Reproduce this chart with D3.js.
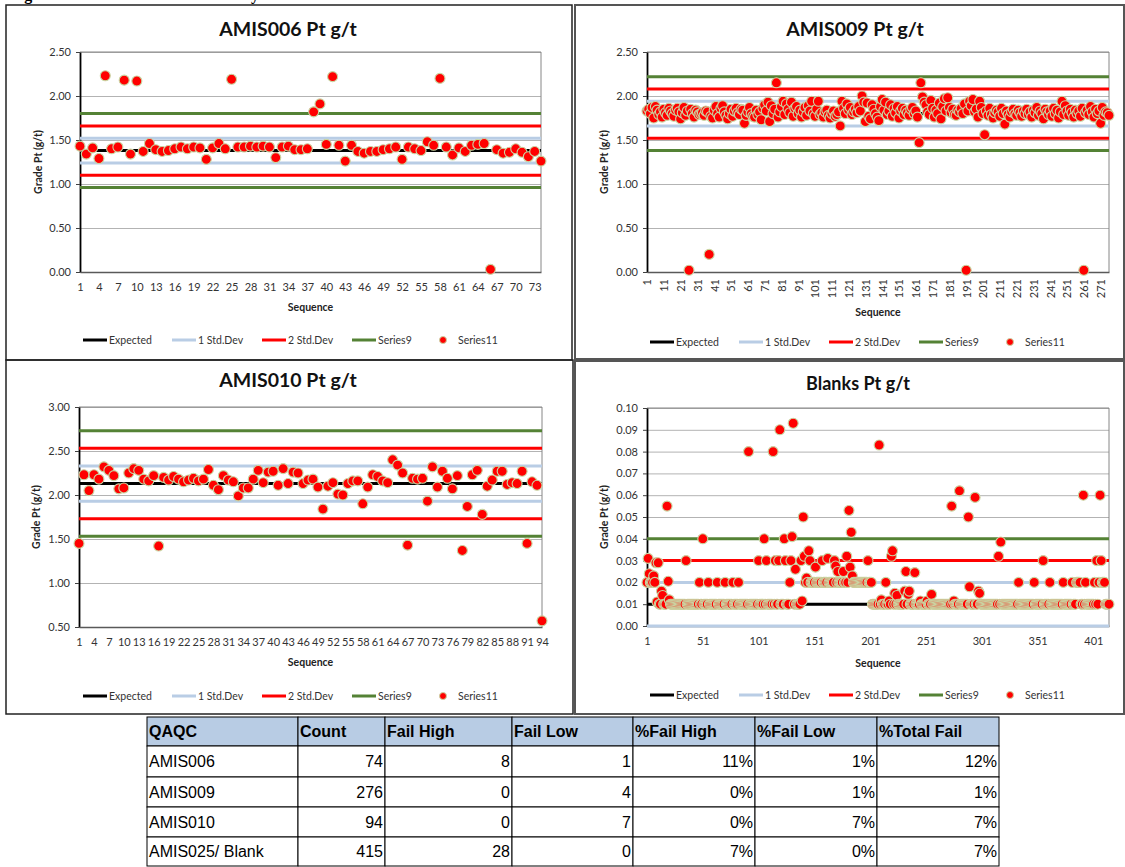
<!DOCTYPE html>
<html>
<head>
<meta charset="utf-8">
<script src="https://cdn.jsdelivr.net/npm/d3@7"></script>
<style>
  body { margin: 0; background: #fff; }
  svg { display: block; }
</style>
</head>
<body>
<div id="chart"></div>
<script>
// ---- data ----
var legendNames = ["Expected", "1 Std.Dev", "2 Std.Dev", "Series9", "Series11"];

var amis006Values = [
  1.43,1.34,1.41,1.29,2.23,1.40,1.42,2.18,1.34,2.17,
  1.37,1.46,1.39,1.37,1.38,1.40,1.42,1.40,1.42,1.41,
  1.28,1.41,1.46,1.40,2.19,1.42,1.42,1.43,1.42,1.43,
  1.42,1.30,1.42,1.43,1.39,1.39,1.40,1.82,1.91,1.45,
  2.22,1.44,1.26,1.44,1.37,1.35,1.37,1.37,1.39,1.40,
  1.42,1.28,1.42,1.40,1.38,1.48,1.44,2.20,1.42,1.33,
  1.41,1.37,1.44,1.45,1.46,0.03,1.39,1.35,1.36,1.40,
  1.36,1.31,1.37,1.26];
var amis006Lines = [[1.38], [1.52, 1.24], [1.66, 1.10], [1.80, 0.96]];
var amis006YTicks = [0, 0.5, 1, 1.5, 2, 2.5];
var amis006XTicks = [1,4,7,10,13,16,19,22,25,28,31,34,37,40,43,46,49,52,55,58,61,64,67,70,73];

var amis009Values = [
  1.83,1.85,1.80,1.87,1.75,1.88,1.84,1.79,1.82,1.76,1.85,1.81,1.78,1.86,1.83,1.80,1.77,1.84,1.86,1.82,
  1.74,1.81,1.87,1.78,1.83,0.02,1.85,1.80,1.76,1.84,1.82,1.79,1.80,1.81,1.78,1.83,1.82,0.20,1.77,1.75,
  1.84,1.88,1.80,1.76,1.86,1.89,1.82,1.78,1.74,1.80,1.85,1.77,1.83,1.86,1.81,1.79,1.85,1.84,1.69,1.78,
  1.82,1.87,1.80,1.77,1.76,1.84,1.79,1.82,1.73,1.86,1.90,1.83,1.93,1.71,1.89,1.80,1.85,2.15,1.76,1.82,
  1.88,1.94,1.79,1.91,1.85,1.81,1.93,1.77,1.86,1.88,1.80,1.84,1.76,1.82,1.87,1.78,1.89,1.83,1.94,1.80,
  1.77,1.85,1.94,1.79,1.81,1.76,1.82,1.84,1.78,1.75,1.80,1.83,1.77,1.79,1.82,1.66,1.94,1.86,1.80,1.91,
  1.84,1.87,1.79,1.82,1.85,1.81,1.88,1.83,2.00,1.93,1.71,1.92,1.77,1.74,1.90,1.85,1.80,1.76,1.72,1.88,
  1.96,1.84,1.93,1.79,1.83,1.90,1.77,1.86,1.81,1.88,1.75,1.83,1.86,1.79,1.84,1.81,1.78,1.85,1.87,1.80,
  1.83,1.76,1.47,2.15,1.99,1.93,1.90,1.82,1.79,1.95,1.86,1.76,1.84,1.80,1.92,1.74,1.88,1.97,1.83,1.98,
  1.87,1.81,1.85,1.79,1.78,1.84,1.82,1.86,1.80,1.91,0.02,1.83,1.94,1.89,1.96,1.82,1.85,1.76,1.94,1.87,
  1.80,1.56,1.83,1.78,1.86,1.79,1.75,1.81,1.84,1.82,1.77,1.86,1.80,1.68,1.83,1.79,1.76,1.82,1.85,1.80,
  1.78,1.84,1.81,1.77,1.83,1.80,1.85,1.79,1.82,1.76,1.84,1.81,1.87,1.78,1.83,1.80,1.74,1.85,1.82,1.79,
  1.83,1.77,1.86,1.80,1.84,1.75,1.82,1.94,1.79,1.89,1.83,1.78,1.85,1.81,1.76,1.84,1.80,1.83,1.77,1.86,
  0.02,1.81,1.84,1.79,1.88,1.82,1.76,1.85,1.80,1.83,1.69,1.87,1.78,1.82,1.81,1.78];
var amis009Lines = [[1.80], [1.94, 1.66], [2.08, 1.52], [2.22, 1.38]];
var amis009YTicks = [0, 0.5, 1, 1.5, 2, 2.5];
var amis009XTicks = [1,11,21,31,41,51,61,71,81,91,101,111,121,131,141,151,161,171,181,191,201,211,221,231,241,251,261,271];

var amis010Values = [
  1.45,2.23,2.05,2.23,2.18,2.32,2.28,2.22,2.07,2.08,
  2.25,2.30,2.28,2.18,2.16,2.22,1.42,2.20,2.17,2.21,
  2.18,2.15,2.17,2.19,2.16,2.18,2.29,2.11,2.06,2.22,
  2.17,2.15,1.99,2.08,2.08,2.18,2.28,2.14,2.26,2.27,
  2.11,2.30,2.13,2.26,2.25,2.13,2.17,2.18,2.09,1.84,
  2.10,2.14,2.01,2.00,2.13,2.16,2.16,1.90,2.09,2.23,
  2.21,2.16,2.14,2.40,2.34,2.25,1.43,2.19,2.18,2.19,
  1.93,2.32,2.09,2.27,2.19,2.07,2.22,1.37,1.87,2.23,
  2.28,1.78,2.10,2.17,2.27,2.27,2.12,2.14,2.13,2.27,
  1.45,2.15,2.11,0.57];
var amis010Lines = [[2.13], [2.33, 1.93], [2.53, 1.73], [2.73, 1.53]];
var amis010YTicks = [0.5, 1, 1.5, 2, 2.5, 3];
var amis010XTicks = [1,4,7,10,13,16,19,22,25,28,31,34,37,40,43,46,49,52,55,58,61,64,67,70,73,76,79,82,85,88,91,94];

var blankValues = [
  0.02,0.031,0.024,0.02,0.02,0.02,0.023,0.02,0.029,0.011,
  0.029,0.01,0.01,0.016,0.014,0.01,0.01,0.01,0.055,0.0205,
  0.012,0.01,0.01,0.01,0.01,0.01,0.01,0.01,0.01,0.01,
  0.01,0.01,0.01,0.01,0.01,0.03,0.01,0.01,0.01,0.01,
  0.01,0.01,0.01,0.01,0.01,0.01,0.01,0.02,0.01,0.01,
  0.04,0.01,0.01,0.01,0.01,0.02,0.01,0.01,0.01,0.01,
  0.01,0.01,0.01,0.02,0.01,0.01,0.01,0.01,0.01,0.01,
  0.02,0.01,0.01,0.01,0.01,0.01,0.01,0.02,0.01,0.01,
  0.01,0.01,0.02,0.01,0.01,0.01,0.01,0.01,0.01,0.01,
  0.01,0.08,0.01,0.01,0.01,0.01,0.01,0.01,0.01,0.01,
  0.03,0.01,0.01,0.01,0.01,0.04,0.01,0.03,0.01,0.01,
  0.01,0.01,0.01,0.08,0.01,0.03,0.01,0.01,0.03,0.09,
  0.01,0.01,0.01,0.04,0.03,0.01,0.01,0.01,0.02,0.03,
  0.041,0.093,0.01,0.026,0.01,0.01,0.01,0.01,0.03,0.0115,
  0.05,0.032,0.02,0.022,0.02,0.0345,0.03,0.02,0.02,0.02,
  0.02,0.027,0.02,0.02,0.02,0.02,0.02,0.03,0.02,0.02,
  0.02,0.02,0.031,0.02,0.02,0.02,0.02,0.02,0.03,0.0275,
  0.02,0.025,0.02,0.02,0.02,0.02,0.025,0.02,0.02,0.032,
  0.02,0.053,0.027,0.043,0.023,0.02,0.02,0.02,0.02,0.02,
  0.02,0.02,0.02,0.02,0.02,0.02,0.02,0.02,0.03,0.02,
  0.02,0.02,0.01,0.01,0.01,0.01,0.01,0.01,0.083,0.01,
  0.012,0.01,0.01,0.01,0.02,0.01,0.01,0.0115,0.01,0.032,
  0.0345,0.01,0.015,0.01,0.014,0.01,0.01,0.01,0.01,0.01,
  0.01,0.016,0.025,0.01,0.0145,0.016,0.01,0.01,0.01,0.01,
  0.0245,0.01,0.01,0.01,0.01,0.0115,0.01,0.01,0.01,0.01,
  0.01,0.0115,0.01,0.01,0.01,0.0145,0.01,0.01,0.01,0.01,
  0.01,0.01,0.01,0.01,0.01,0.01,0.01,0.01,0.01,0.01,
  0.01,0.01,0.01,0.055,0.01,0.0115,0.01,0.01,0.01,0.01,
  0.062,0.01,0.01,0.01,0.01,0.01,0.01,0.01,0.05,0.018,
  0.01,0.01,0.01,0.01,0.059,0.01,0.01,0.016,0.015,0.01,
  0.01,0.01,0.01,0.01,0.01,0.01,0.01,0.01,0.01,0.01,
  0.01,0.01,0.01,0.01,0.01,0.032,0.01,0.0385,0.01,0.01,
  0.01,0.01,0.01,0.01,0.01,0.01,0.01,0.01,0.01,0.01,
  0.01,0.01,0.01,0.02,0.01,0.01,0.01,0.01,0.01,0.01,
  0.01,0.01,0.01,0.01,0.01,0.01,0.01,0.02,0.01,0.01,
  0.01,0.01,0.01,0.01,0.01,0.03,0.01,0.01,0.01,0.01,
  0.01,0.02,0.01,0.01,0.01,0.01,0.01,0.01,0.01,0.01,
  0.01,0.01,0.01,0.02,0.01,0.01,0.01,0.01,0.01,0.01,
  0.01,0.02,0.01,0.01,0.01,0.02,0.02,0.02,0.02,0.01,
  0.01,0.06,0.01,0.02,0.01,0.01,0.01,0.01,0.01,0.01,
  0.01,0.02,0.01,0.03,0.01,0.02,0.06,0.03,0.02,0.02,
  0.02,0.01,0.01,0.01,0.01];
var blankLines = [[0.01], [0.02, 0.00], [0.03, -0.01], [0.04, -0.02]];
var blankYTicks = [0, 0.01, 0.02, 0.03, 0.04, 0.05, 0.06, 0.07, 0.08, 0.09, 0.10];
var blankXTicks = [1, 51, 101, 151, 201, 251, 301, 351, 401];

var tableHeader = ["QAQC", "Count", "Fail High", "Fail Low", "%Fail High", "%Fail Low", "%Total Fail"];
var tableQaqc = ["AMIS006", "AMIS009", "AMIS010", "AMIS025/ Blank"];
var tableCount = [74, 276, 94, 415];
var tableFailHigh = [8, 0, 0, 28];
var tableFailLow = [1, 4, 7, 0];
var tablePctHigh = ["11%", "0%", "0%", "7%"];
var tablePctLow = ["1%", "1%", "7%", "0%"];
var tablePctTotal = ["12%", "1%", "7%", "7%"];

// ---- styles ----
var lineColors = ["#000000", "#b9cde5", "#ff0000", "#548235"];
var chartFont = "Lato, 'Open Sans', sans-serif";
var tableFont = "'Liberation Sans', Arial, sans-serif";

var svg = d3.select("#chart").append("svg").attr("width", 1125).attr("height", 867);

// caption, cut off at the top of the page as in the source
svg.append("text").attr("x", 10).attr("y", 0)
  .style("font-family", "'Liberation Serif', serif").style("font-weight", "bold").style("font-size", "16px")
  .text("Figure 14 Standard and Blank analysis of Pt for the AMIS Series");

// panel frames
svg.append("rect").attr("x", 6).attr("y", 5).attr("width", 566).attr("height", 355)
  .attr("fill", "none").attr("stroke", "#222").attr("stroke-width", 1.5);
svg.append("rect").attr("x", 575).attr("y", 5).attr("width", 549).attr("height", 354)
  .attr("fill", "none").attr("stroke", "#555").attr("stroke-width", 2);
svg.append("rect").attr("x", 6).attr("y", 360).attr("width", 567).attr("height", 354)
  .attr("fill", "none").attr("stroke", "#222").attr("stroke-width", 1.5);
svg.append("rect").attr("x", 575).attr("y", 361).attr("width", 549).attr("height", 353)
  .attr("fill", "none").attr("stroke", "#555").attr("stroke-width", 2);

function drawChart(c, id) {
  var g = svg.append("g");
  var n = c.values.length;
  var x = d3.scaleLinear().domain([1, n]).range([c.left, c.right]);
  var y = d3.scaleLinear().domain([c.yTicks[0], c.yTicks[c.yTicks.length - 1]]).range([c.bottom, c.top]);

  g.append("clipPath").attr("id", "clip" + id).append("rect")
    .attr("x", c.left).attr("y", c.top - 2).attr("width", c.right - c.left).attr("height", c.bottom - c.top + 4);

  // gridlines
  g.append("g").attr("transform", "translate(" + c.left + ",0)")
    .call(d3.axisLeft(y).tickValues(c.yTicks).tickSize(-(c.right - c.left)).tickFormat(""))
    .call(function(s) {
      s.select(".domain").remove();
      s.selectAll("line").attr("stroke", "#b3b3b3");
    });
  // plot border
  g.append("path").attr("d", "M" + c.left + "," + c.top + "H" + c.right + "V" + c.bottom)
    .attr("fill", "none").attr("stroke", "#868686");

  // y axis
  g.append("g").attr("transform", "translate(" + c.left + ",0)")
    .call(d3.axisLeft(y).tickValues(c.yTicks).tickSize(4).tickSizeOuter(0).tickPadding(5).tickFormat(d3.format(".2f")))
    .call(function(s) {
      s.select(".domain").attr("stroke", "#000").attr("stroke-width", 1.8);
      s.selectAll("line").attr("stroke", "#404040");
      s.selectAll("text").style("font-family", chartFont).style("font-size", "11px").attr("fill", "#333");
    });

  // x axis
  var xa = g.append("g").attr("transform", "translate(0," + c.bottom + ")")
    .call(d3.axisBottom(x).tickValues(c.xTicks).tickSize(0).tickSizeOuter(0).tickPadding(11).tickFormat(d3.format("d")));
  xa.select(".domain").attr("stroke", "#595959").attr("stroke-width", 1.3);
  xa.selectAll("text").style("font-family", chartFont).style("font-size", "11px").attr("fill", "#333");
  if (c.rotate) {
    xa.selectAll("text").attr("y", 0).attr("x", -7).attr("dy", "0.35em")
      .attr("transform", "rotate(-90)").style("text-anchor", "end");
  }

  // reference lines
  var lg = g.append("g").attr("clip-path", "url(#clip" + id + ")");
  c.lines.forEach(function(levels, i) {
    levels.forEach(function(v) {
      lg.append("line").attr("x1", x(1)).attr("x2", x(n)).attr("y1", y(v)).attr("y2", y(v))
        .attr("stroke", lineColors[i]).attr("stroke-width", 3);
    });
  });

  // sample points
  g.append("g").selectAll("circle").data(c.values).join("circle")
    .attr("cx", function(d, i) { return x(i + 1); })
    .attr("cy", function(d) { return y(d); })
    .attr("r", 5)
    .attr("fill", "#ff0000")
    .attr("stroke", "#c9d6a3")
    .attr("stroke-width", 1.1);

  // titles
  g.append("text").attr("x", c.titleX).attr("y", c.titleY).attr("text-anchor", "middle")
    .style("font-family", chartFont).style("font-weight", "bold").style("font-size", c.titleSize || "18px").attr("fill", "#111")
    .text(c.title);
  g.append("text").attr("x", (c.left + c.right) / 2).attr("y", c.seqY).attr("text-anchor", "middle")
    .style("font-family", chartFont).style("font-weight", "bold").style("font-size", "10.5px").attr("fill", "#222")
    .text("Sequence");
  g.append("text").attr("transform", "translate(" + c.yTitleX + "," + (c.top + c.bottom) / 2 + ") rotate(-90)")
    .attr("text-anchor", "middle").attr("dy", "0.35em")
    .style("font-family", chartFont).style("font-weight", "bold").style("font-size", "10.5px").attr("fill", "#222")
    .text("Grade Pt (g/t)");

  // legend
  var offsets = [0, 89, 179, 269];
  var leg = g.append("g").style("font-family", chartFont).style("font-size", "10.5px");
  offsets.forEach(function(o, i) {
    leg.append("line").attr("x1", c.legendX + o).attr("x2", c.legendX + o + 24)
      .attr("y1", c.legendY).attr("y2", c.legendY).attr("stroke", lineColors[i]).attr("stroke-width", 3);
    leg.append("text").attr("x", c.legendX + o + 26).attr("y", c.legendY).attr("dy", "0.35em")
      .attr("fill", "#333").text(legendNames[i]);
  });
  leg.append("circle").attr("cx", c.legendX + 360).attr("cy", c.legendY).attr("r", 3.5)
    .attr("fill", "#ff0000").attr("stroke", "#c9d6a3").attr("stroke-width", 1);
  leg.append("text").attr("x", c.legendX + 375).attr("y", c.legendY).attr("dy", "0.35em")
    .attr("fill", "#333").text(legendNames[4]);
}

drawChart({title: "AMIS006 Pt g/t", titleSize: "19.5px", values: amis006Values, lines: amis006Lines, yTicks: amis006YTicks, xTicks: amis006XTicks,
  left: 80, right: 541, top: 52, bottom: 272, titleX: 288, titleY: 36, yTitleX: 38, seqY: 311, legendX: 83, legendY: 340}, 1);
drawChart({title: "AMIS009 Pt g/t", titleSize: "19.5px", values: amis009Values, lines: amis009Lines, yTicks: amis009YTicks, xTicks: amis009XTicks,
  left: 647, right: 1109, top: 52, bottom: 272, titleX: 855, titleY: 36, yTitleX: 604, seqY: 316, legendX: 650, legendY: 342, rotate: true}, 2);
drawChart({title: "AMIS010 Pt g/t", titleSize: "19.5px", values: amis010Values, lines: amis010Lines, yTicks: amis010YTicks, xTicks: amis010XTicks,
  left: 79, right: 542, top: 407, bottom: 627, titleX: 288, titleY: 387, yTitleX: 36, seqY: 666, legendX: 83, legendY: 696}, 3);
drawChart({title: "Blanks Pt g/t", values: blankValues, lines: blankLines, yTicks: blankYTicks, xTicks: blankXTicks,
  left: 647, right: 1109, top: 408, bottom: 626, titleX: 858, titleY: 390, yTitleX: 604, seqY: 667, legendX: 650, legendY: 695}, 4);

// ---- summary table ----
var colEdges = [147, 298, 385, 512, 633, 755, 877, 999];
var rowEdges = [717, 746, 777, 807, 837, 866];
var tableRows = tableQaqc.map(function(q, i) {
  return [q, tableCount[i], tableFailHigh[i], tableFailLow[i], tablePctHigh[i], tablePctLow[i], tablePctTotal[i]];
});
var tg = svg.append("g").style("font-family", tableFont).style("font-size", "16px");
tableHeader.forEach(function(h, j) {
  tg.append("rect").attr("x", colEdges[j]).attr("y", rowEdges[0])
    .attr("width", colEdges[j + 1] - colEdges[j]).attr("height", rowEdges[1] - rowEdges[0])
    .attr("fill", "#b8cce4").attr("stroke", "#000").attr("stroke-width", 1);
  tg.append("text").attr("x", colEdges[j] + 2).attr("y", (rowEdges[0] + rowEdges[1]) / 2).attr("dy", "0.35em")
    .style("font-weight", "bold").attr("fill", "#000").text(h);
});
tableRows.forEach(function(r, i) {
  r.forEach(function(v, j) {
    tg.append("rect").attr("x", colEdges[j]).attr("y", rowEdges[i + 1])
      .attr("width", colEdges[j + 1] - colEdges[j]).attr("height", rowEdges[i + 2] - rowEdges[i + 1])
      .attr("fill", "#fff").attr("stroke", "#000").attr("stroke-width", 1);
    tg.append("text")
      .attr("x", j === 0 ? colEdges[j] + 2 : colEdges[j + 1] - 2)
      .attr("y", (rowEdges[i + 1] + rowEdges[i + 2]) / 2).attr("dy", "0.35em")
      .attr("text-anchor", j === 0 ? "start" : "end")
      .attr("fill", "#000").text(v);
  });
});
</script>
</body>
</html>
